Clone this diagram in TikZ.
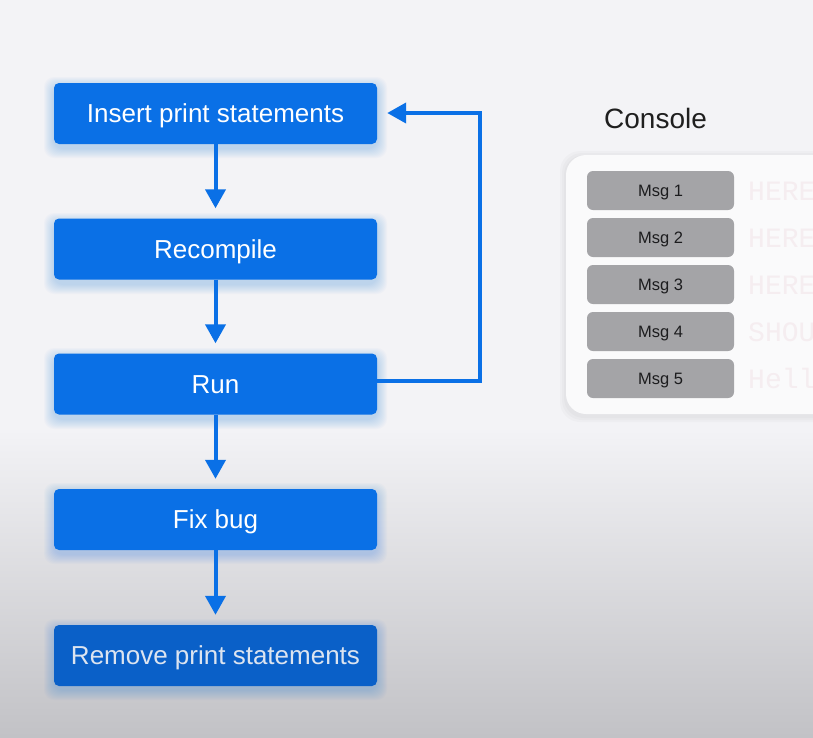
\documentclass[tikz,border=0pt]{standalone}
\usepackage{fontspec}
\setmainfont{Liberation Sans}
\newfontfamily\monofont{Liberation Mono}
\usetikzlibrary{arrows.meta}
\definecolor{bgtop}{HTML}{F3F3F6}
\definecolor{bgbot}{HTML}{C2C2C6}
\definecolor{flowblue}{HTML}{0A70E6}
\definecolor{flowdark}{HTML}{0A60C8}
\definecolor{panelbg}{HTML}{FAFAFB}
\definecolor{msggray}{HTML}{A4A4A7}
\definecolor{msgtext}{HTML}{1C1C1E}
\definecolor{ghost}{HTML}{F5EDF0}
\tikzset{
  x=1pt,y=-1pt,
  flowbox/.style={rectangle, rounded corners=5pt, fill=flowblue, text=white,
    minimum width=323pt, minimum height=61pt, inner sep=0pt,
    text height=18.6pt, text depth=0pt,
    font=\fontsize{26}{30}\selectfont},
  glow/.style={rounded corners=10pt, fill=flowblue, opacity=0.022},
  msgbox/.style={rectangle, rounded corners=6pt, fill=msggray, text=msgtext,
    minimum width=147pt, minimum height=39pt, inner sep=0pt,
    text height=11.8pt, text depth=0pt,
    font=\fontsize{16.5}{19}\selectfont},
  ghosttxt/.style={anchor=west, text=ghost, inner sep=0pt,
    text height=19pt, text depth=0pt,
    font=\monofont\fontsize{28}{30}\selectfont},
  flowarrow/.style={draw=flowblue, line width=4pt,
    -{Triangle[width=20pt,length=19pt]}, shorten >=10pt}
}
\begin{document}
\begin{tikzpicture}
\useasboundingbox (0,0) rectangle (813,737);
\clip (0,0) rectangle (813,737);
% background
\fill[bgtop] (0,0) rectangle (813,430);
\shade[top color=bgtop, bottom color=bgbot] (0,429) rectangle (813,737);
% glows
\foreach \y in {83,219,354,489,625}{
  \foreach \e in {1,...,10}{
    \fill[glow] (54-\e,\y-\e+4) rectangle (377+\e,\y+61+\e+4);
  }
}
% flow boxes
\node[flowbox] (ins) at (215.5,113.5) {Insert print statements};
\node[flowbox] (rec) at (215.5,249) {Recompile};
\node[flowbox] (run) at (215.5,384) {Run};
\node[flowbox] (fix) at (215.5,519.5) {Fix bug};
\node[flowbox, fill=flowdark, text={rgb,255:red,220;green,228;blue,240}] (rem) at (215.5,655.5) {Remove print statements};
% arrows
\draw[flowarrow] (ins) -- (rec);
\draw[flowarrow] (rec) -- (run);
\draw[flowarrow] (run) -- (fix);
\draw[flowarrow] (fix) -- (rem);
\coordinate (lb) at (480,381);
\coordinate (lt) at (480,113);
\draw[flowarrow] (run.east |- lb) -- (lb) -- (lt) -- (ins.east |- lt);
% console
\node[anchor=base west, inner sep=0pt, text=black!88, font=\fontsize{28}{32}\selectfont] (ctitle) at (604,128) {Console};
\foreach \e in {2,4,6}{
  \fill[rounded corners=20pt, black, opacity=0.02] (566-\e,155-\e+2) rectangle (860,414+\e+2);
}
\fill[panelbg, rounded corners=20pt] (566,155) rectangle (860,414);
\node[msgbox] (m1) at (660.5,190.5) {Msg 1};
\node[msgbox] (m2) at (660.5,237.5) {Msg 2};
\node[msgbox] (m3) at (660.5,284.5) {Msg 3};
\node[msgbox] (m4) at (660.5,331.5) {Msg 4};
\node[msgbox] (m5) at (660.5,378.5) {Msg 5};
\node[ghosttxt] (g1) at (748,191) {HERE};
\node[ghosttxt] (g2) at (748,238) {HERE};
\node[ghosttxt] (g3) at (748,285) {HERE};
\node[ghosttxt] (g4) at (748,332) {SHOU};
\node[ghosttxt] (g5) at (748,379) {Hell};
\end{tikzpicture}
\end{document}
